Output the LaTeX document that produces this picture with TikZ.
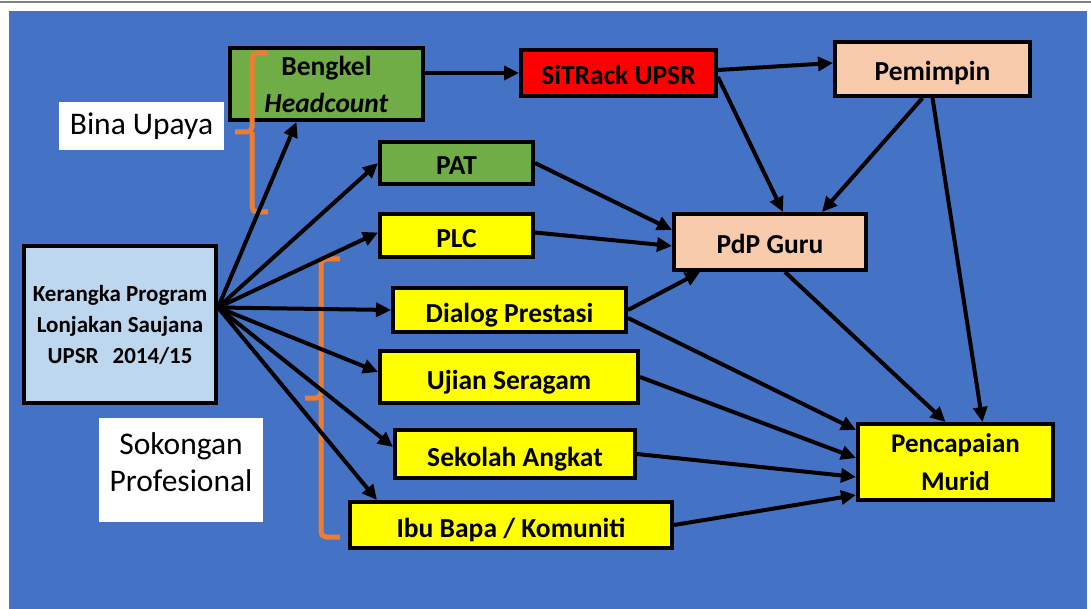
\documentclass[tikz,border=0pt]{standalone}
\usepackage{fontspec}
\setmainfont{Carlito}
\usetikzlibrary{arrows.meta}
\definecolor{bgblue}{HTML}{4472C4}
\definecolor{leafgreen}{HTML}{70AD47}
\definecolor{alertred}{HTML}{FF0000}
\definecolor{peach}{HTML}{F8CBAD}
\definecolor{hiyellow}{HTML}{FFFF00}
\definecolor{paleblue}{HTML}{BDD7EE}
\definecolor{braceorange}{HTML}{ED7D31}
\newcommand\cellfont{\bfseries\fontsize{27.5}{37}\selectfont}
\newcommand\tagfont{\fontsize{31.5}{37}\selectfont}
\begin{document}
\begin{tikzpicture}[x=1pt,y=-1pt,
  box/.style={draw=black,line width=4pt,font=\cellfont,align=center,inner sep=0pt},
  oneline/.style={box,text height=25pt,text depth=1pt},
  tagbox/.style={fill=white,font=\tagfont,align=center,inner sep=0pt},
  link/.style={line width=4pt,-{Triangle[length=15pt,width=14pt]}},
  bracket/.style={braceorange,line width=5pt,rounded corners=5pt}]
  \useasboundingbox (0,0) rectangle (1091,609);
  \fill[white] (0,0) rectangle (1091,609);
  \draw[gray,line width=1.5pt] (0,2)--(1091,2);
  \fill[bgblue] (9,11) rectangle (1087,609);
  % left labels
  \node[tagbox,minimum width=165pt,minimum height=48pt] (bina) at (141.5,126) {Bina Upaya};
  \node[tagbox,minimum width=164pt,minimum height=104pt,text depth=16pt] (sokongan) at (181,470) {Sokongan\\Profesional};
  % boxes
  \node[box,fill=paleblue,minimum width=192pt,minimum height=157pt,
    font=\bfseries\fontsize{23}{31}\selectfont] (kp) at (120,324.5)
    {Kerangka Program\\Lonjakan Saujana\\UPSR\hspace{14pt}2014/15};
  \node[box,fill=leafgreen,minimum width=193pt,minimum height=72pt] (bengkel) at (326.5,84)
    {Bengkel\\\textit{Headcount}};
  \node[oneline,fill=alertred,minimum width=195pt,minimum height=46pt] (sitrack) at (618.5,73) {SiTRack UPSR};
  \node[oneline,fill=peach,minimum width=195pt,minimum height=54pt] (pemimpin) at (932.5,69) {Pemimpin};
  \node[oneline,fill=leafgreen,minimum width=153pt,minimum height=42pt] (pat) at (456.5,163) {PAT};
  \node[oneline,fill=hiyellow,minimum width=153pt,minimum height=43pt] (plc) at (456.5,235.5) {PLC};
  \node[oneline,fill=peach,minimum width=192pt,minimum height=56pt] (pdp) at (770,242) {PdP Guru};
  \node[oneline,fill=hiyellow,minimum width=233pt,minimum height=44pt] (dialog) at (509.5,310) {Dialog Prestasi};
  \node[oneline,fill=hiyellow,minimum width=258pt,minimum height=52pt] (ujian) at (509,377) {Ujian Seragam};
  \node[oneline,fill=hiyellow,minimum width=240pt,minimum height=48pt] (sekolah) at (515,454) {Sekolah Angkat};
  \node[oneline,fill=hiyellow,minimum width=322pt,minimum height=46pt] (ibu) at (511,525) {Ibu Bapa / Komuniti};
  \node[box,fill=hiyellow,minimum width=195pt,minimum height=76pt,
    font=\bfseries\fontsize{27}{38}\selectfont] (murid) at (955.5,462) {Pencapaian\\Murid};
  % braces
  \draw[bracket] (268,53) -| (252,132) -- (235,132);
  \draw[bracket] (252,132) |- (268,212);
  \draw[bracket] (340,259) -| (321,398) -- (305,398);
  \draw[bracket] (321,398) |- (340,537);
  % from the programme box
  \coordinate (hub) at ([yshift=17pt]kp.east);
  \draw[link] (hub) -- ([xshift=-30pt]bengkel.south);
  \draw[link] (hub) -- (pat.west);
  \draw[link] (hub) -- ([yshift=3pt]plc.west);
  \draw[link] (hub) -- (dialog.west);
  \draw[link] (hub) -- ([yshift=5pt]ujian.west);
  \draw[link] (hub) -- ([yshift=7pt]sekolah.west);
  \draw[link] (hub) -- ([xshift=29pt]ibu.north west);
  % upper chain
  \draw[link] (bengkel.east |- sitrack.west) -- (sitrack.west);
  \draw[link] ([yshift=3pt]sitrack.east) -- ([yshift=6pt]pemimpin.west);
  \draw[link] ([yshift=-4pt]sitrack.east) -- ([xshift=13pt]pdp.north);
  \draw[link] ([xshift=-10pt]pemimpin.south) -- ([xshift=52pt]pdp.north);
  \draw[link] (pemimpin.south) -- ([xshift=27pt]murid.north);
  % into PdP Guru
  \draw[link] (pat.east) -- ([yshift=12pt]pdp.west);
  \draw[link] ([yshift=3pt]plc.east) -- ([yshift=-4pt]pdp.west);
  \draw[link] (dialog.east) -- ([xshift=28pt]pdp.south west);
  % into Pencapaian Murid
  \draw[link] ([xshift=15pt]pdp.south) -- ([xshift=-10pt]murid.north);
  \draw[link] ([yshift=-8pt]dialog.east) -- ([yshift=32pt]murid.west);
  \draw[link] (ujian.east) -- ([yshift=4pt]murid.west);
  \draw[link] (sekolah.east) -- ([yshift=-15pt]murid.west);
  \draw[link] (ibu.east) -- ([yshift=-33pt]murid.west);
\end{tikzpicture}
\end{document}
